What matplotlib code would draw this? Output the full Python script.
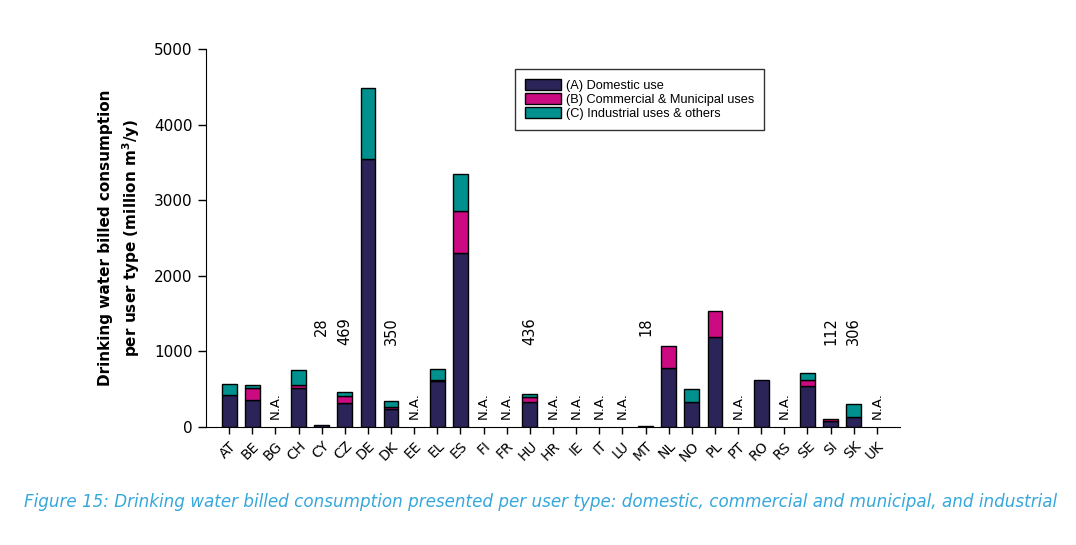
import matplotlib.pyplot as plt
import numpy as np

countries = ['AT', 'BE', 'BG', 'CH', 'CY', 'CZ', 'DE', 'DK', 'EE', 'EL', 'ES', 'FI', 'FR', 'HU', 'HR',
             'IE', 'IT', 'LU', 'MT', 'NL', 'NO', 'PL', 'PT', 'RO', 'RS', 'SE', 'SI', 'SK', 'UK']
# million m3/y (0 where nothing is drawn)
domestic = [423, 357, 0, 511, 28, 317, 3545, 238, 0, 604, 2302, 0, 0, 326, 0,
            0, 0, 0, 18, 776, 326, 1186, 0, 617, 0, 538, 80, 128, 0]
commercial = [0, 163, 0, 40, 0, 89, 0, 22, 0, 18, 555, 0, 0, 75, 0,
              0, 0, 0, 0, 291, 0, 344, 0, 0, 0, 79, 32, 0, 0]
industrial = [146, 31, 0, 199, 0, 63, 940, 90, 0, 141, 490, 0, 0, 35, 0,
              0, 0, 0, 0, 0, 172, 0, 0, 0, 0, 93, 0, 178, 0]
not_available = ['BG', 'EE', 'FI', 'FR', 'HR', 'IE', 'IT', 'LU', 'PT', 'RS', 'UK']
labelled = {'CY': '28', 'CZ': '469', 'DK': '350', 'HU': '436', 'MT': '18', 'SI': '112', 'SK': '306'}

c_dom = '#2b2459'
c_com = '#cc0a82'
c_ind = '#00918f'

x = np.arange(len(countries))
dom = np.array(domestic, dtype=float)
com = np.array(commercial, dtype=float)
ind = np.array(industrial, dtype=float)

fig = plt.figure(figsize=(10.76, 5.45), dpi=100)
ax = fig.add_axes([0.1915, 0.2165, 0.6449, 0.6935])

w = 0.64
series = [(dom, np.zeros_like(dom), c_dom, '(A) Domestic use'),
          (com, dom, c_com, '(B) Commercial & Municipal uses'),
          (ind, dom + com, c_ind, '(C) Industrial uses & others')]
for vals, base, col, lab in series:
    m = vals > 0  # skip empty segments so no edge line is drawn at zero
    ax.bar(x[m], vals[m], w, bottom=base[m], color=col, edgecolor='black', linewidth=1, label=lab)

for i, c in enumerate(countries):
    if c in not_available:
        ax.text(i, 100, 'N.A.', rotation=90, ha='center', va='bottom', fontsize=9.5)
    if c in labelled:
        ax.text(i, 1450, labelled[c], rotation=90, ha='center', va='top', fontsize=10.5)

ax.set_xlim(-1, len(countries))
ax.set_ylim(0, 5000)
ax.set_yticks([0, 1000, 2000, 3000, 4000, 5000])
ax.set_xticks(x)
ax.set_xticklabels(countries, rotation=45, ha='right', rotation_mode='anchor', fontsize=10)
ax.tick_params(axis='y', labelsize=11, length=6, width=1)
ax.tick_params(axis='x', length=5, width=1)
for s in ['top', 'right']:
    ax.spines[s].set_visible(False)
ax.set_ylabel('Drinking water billed consumption\nper user type (million m$^\\mathbf{3}$/y)',
              fontsize=11, fontweight='bold', labelpad=9, linespacing=1.45)

leg = ax.legend(loc='upper left', bbox_to_anchor=(0.445, 0.948), frameon=True, fancybox=False,
                edgecolor='black', prop={'family': 'Liberation Sans', 'size': 9.2},
                handlelength=2.8, handleheight=0.9, labelspacing=0.12, borderpad=0.8,
                handletextpad=0.4, borderaxespad=0)
leg.get_frame().set_linewidth(1)

fig.text(0.022, 0.079, 'Figure 15: Drinking water billed consumption presented per user type: '
         'domestic, commercial and municipal, and industrial',
         fontsize=12.1, style='italic', color='#35a7dc', va='center')

fig.savefig('out.png', dpi=100)
